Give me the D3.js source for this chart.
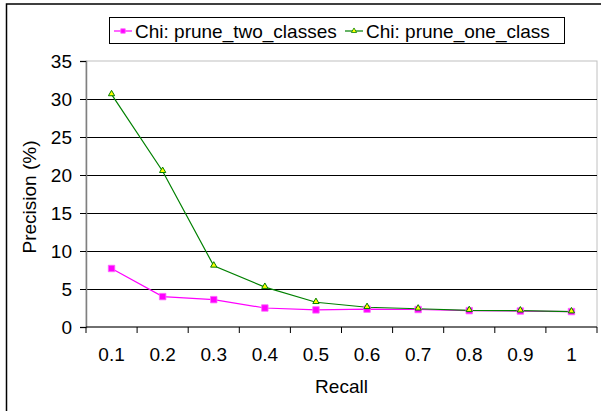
<!DOCTYPE html>
<html>
<head>
<meta charset="utf-8">
<script src="https://cdn.jsdelivr.net/npm/d3@7"></script>
<style>
  body { margin: 0; background: #fff; }
  svg text { font-family: Arial, "Liberation Sans", sans-serif; fill: #000; }
</style>
</head>
<body>
<div id="chart"></div>
<script>
// recall levels (x categories)
var recall = ["0.1", "0.2", "0.3", "0.4", "0.5", "0.6", "0.7", "0.8", "0.9", "1"];

// precision (%) per series
var pruneTwo = [7.7, 4.0, 3.6, 2.5, 2.25, 2.35, 2.3, 2.15, 2.1, 2.03];
var pruneOne = [30.6, 20.5, 8.05, 5.25, 3.26, 2.6, 2.4, 2.2, 2.15, 2.03];

var seriesNames = ["Chi: prune_two_classes", "Chi: prune_one_class"];
var yTicks = [0, 5, 10, 15, 20, 25, 30, 35];

var W = 601, H = 411;
var margin = { top: 61, right: 4, bottom: 84, left: 86 };

var svg = d3.select("#chart")
    .append("svg")
    .attr("width", W)
    .attr("height", H);

// outer chart frame (runs past the picture edge)
svg.append("rect")
    .attr("x", 6.5).attr("y", 4)
    .attr("width", W + 20).attr("height", H + 20)
    .attr("fill", "#fff")
    .attr("stroke", "#000")
    .attr("stroke-width", 1.5);

var x = d3.scaleBand()
    .domain(recall)
    .range([margin.left, W - margin.right])
    .padding(0);

var y = d3.scaleLinear()
    .domain([0, 35])
    .range([H - margin.bottom, margin.top]);

// plot area border (light gray top/right)
svg.append("rect")
    .attr("x", margin.left).attr("y", margin.top)
    .attr("width", x.range()[1] - margin.left)
    .attr("height", y(0) - margin.top)
    .attr("fill", "none")
    .attr("stroke", "#c0c0c0")
    .attr("stroke-width", 1);

// gridlines
svg.append("g")
    .selectAll("line")
    .data(yTicks.filter(function (d) { return d > 0 && d < 35; }))
    .enter().append("line")
    .attr("x1", margin.left).attr("x2", x.range()[1])
    .attr("y1", function (d) { return Math.round(y(d)) + 0.5; })
    .attr("y2", function (d) { return Math.round(y(d)) + 0.5; })
    .attr("stroke", "#000")
    .attr("stroke-width", 1);

// y axis
var yAxis = svg.append("g")
    .attr("transform", "translate(" + margin.left + ",0)")
    .call(d3.axisLeft(y).tickValues(yTicks).tickSize(6).tickPadding(8));
yAxis.select(".domain").attr("stroke", "#808080").attr("stroke-width", 1.5);
yAxis.selectAll(".tick line").attr("stroke", "#000");
yAxis.selectAll(".tick text")
    .attr("font-size", "19px")
    .attr("font-family", "Arial, 'Liberation Sans', sans-serif");

// x axis: ticks on band edges, labels at band centres
var xAxisG = svg.append("g")
    .attr("transform", "translate(0," + y(0) + ")");
xAxisG.append("line")
    .attr("x1", margin.left).attr("x2", x.range()[1])
    .attr("stroke", "#000").attr("stroke-width", 1);
var edges = recall.map(function (d) { return x(d); }).concat([x.range()[1]]);
xAxisG.selectAll(".edge")
    .data(edges)
    .enter().append("line")
    .attr("class", "edge")
    .attr("x1", function (d) { return d; }).attr("x2", function (d) { return d; })
    .attr("y1", 0).attr("y2", 6)
    .attr("stroke", "#000");
xAxisG.selectAll(".lbl")
    .data(recall)
    .enter().append("text")
    .attr("class", "lbl")
    .attr("x", function (d) { return x(d) + x.bandwidth() / 2; })
    .attr("y", 34)
    .attr("text-anchor", "middle")
    .attr("font-size", "19px")
    .text(function (d) { return d; });

// axis titles
svg.append("text")
    .attr("x", (margin.left + x.range()[1]) / 2)
    .attr("y", 393)
    .attr("text-anchor", "middle")
    .attr("font-size", "19px")
    .text("Recall");

svg.append("text")
    .attr("transform", "translate(36," + 197 + ") rotate(-90)")
    .attr("text-anchor", "middle")
    .attr("font-size", "19px")
    .text("Precision (%)");

// lines and markers
var line = d3.line()
    .x(function (d, i) { return x(recall[i]) + x.bandwidth() / 2; })
    .y(function (d) { return y(d); });

svg.append("path")
    .datum(pruneTwo)
    .attr("d", line)
    .attr("fill", "none")
    .attr("stroke", "#ff00ff")
    .attr("stroke-width", 1.2);

svg.append("path")
    .datum(pruneOne)
    .attr("d", line)
    .attr("fill", "none")
    .attr("stroke", "#008000")
    .attr("stroke-width", 1.2);

var sq = d3.symbol().type(d3.symbolSquare).size(42);
var tri = d3.symbol().type(d3.symbolTriangle).size(17);

svg.append("g").selectAll("path")
    .data(pruneTwo)
    .enter().append("path")
    .attr("d", sq)
    .attr("transform", function (d, i) {
        return "translate(" + (x(recall[i]) + x.bandwidth() / 2) + "," + y(d) + ")";
    })
    .attr("fill", "#ff00ff")
    .attr("stroke", "#ff66ff")
    .attr("stroke-width", 0.8);

svg.append("g").selectAll("path")
    .data(pruneOne)
    .enter().append("path")
    .attr("d", tri)
    .attr("transform", function (d, i) {
        return "translate(" + (x(recall[i]) + x.bandwidth() / 2) + "," + (y(d) - 0.5) + ")";
    })
    .attr("fill", "#ffff00")
    .attr("stroke", "#008000")
    .attr("stroke-width", 1);

// legend
var legend = svg.append("g");
legend.append("rect")
    .attr("x", 109.5).attr("y", 17.5)
    .attr("width", 455).attr("height", 26)
    .attr("fill", "#fff")
    .attr("stroke", "#000")
    .attr("stroke-width", 1);

var legendItems = [
    { name: seriesNames[0], x: 114, color: "#ff00ff", fill: "#ff00ff", stroke: "#ff66ff" },
    { name: seriesNames[1], x: 345, color: "#008000", fill: "#ffff00", stroke: "#008000" }
];
var li = legend.selectAll(".item")
    .data(legendItems)
    .enter().append("g")
    .attr("class", "item")
    .attr("transform", function (d) { return "translate(" + d.x + ",31)"; });
li.append("line")
    .attr("x1", 0).attr("x2", 18)
    .attr("stroke", function (d) { return d.color; })
    .attr("stroke-width", 1.2);
li.append("path")
    .attr("d", function (d, i) { return i === 0 ? d3.symbol().type(d3.symbolSquare).size(20)() : d3.symbol().type(d3.symbolTriangle).size(12)(); })
    .attr("transform", "translate(9,0)")
    .attr("fill", function (d) { return d.fill; })
    .attr("stroke", function (d) { return d.stroke; })
    .attr("stroke-width", 0.8);
li.append("text")
    .attr("x", 21)
    .attr("y", 7)
    .attr("font-size", "19px")
    .text(function (d) { return d.name; });
</script>
</body>
</html>
